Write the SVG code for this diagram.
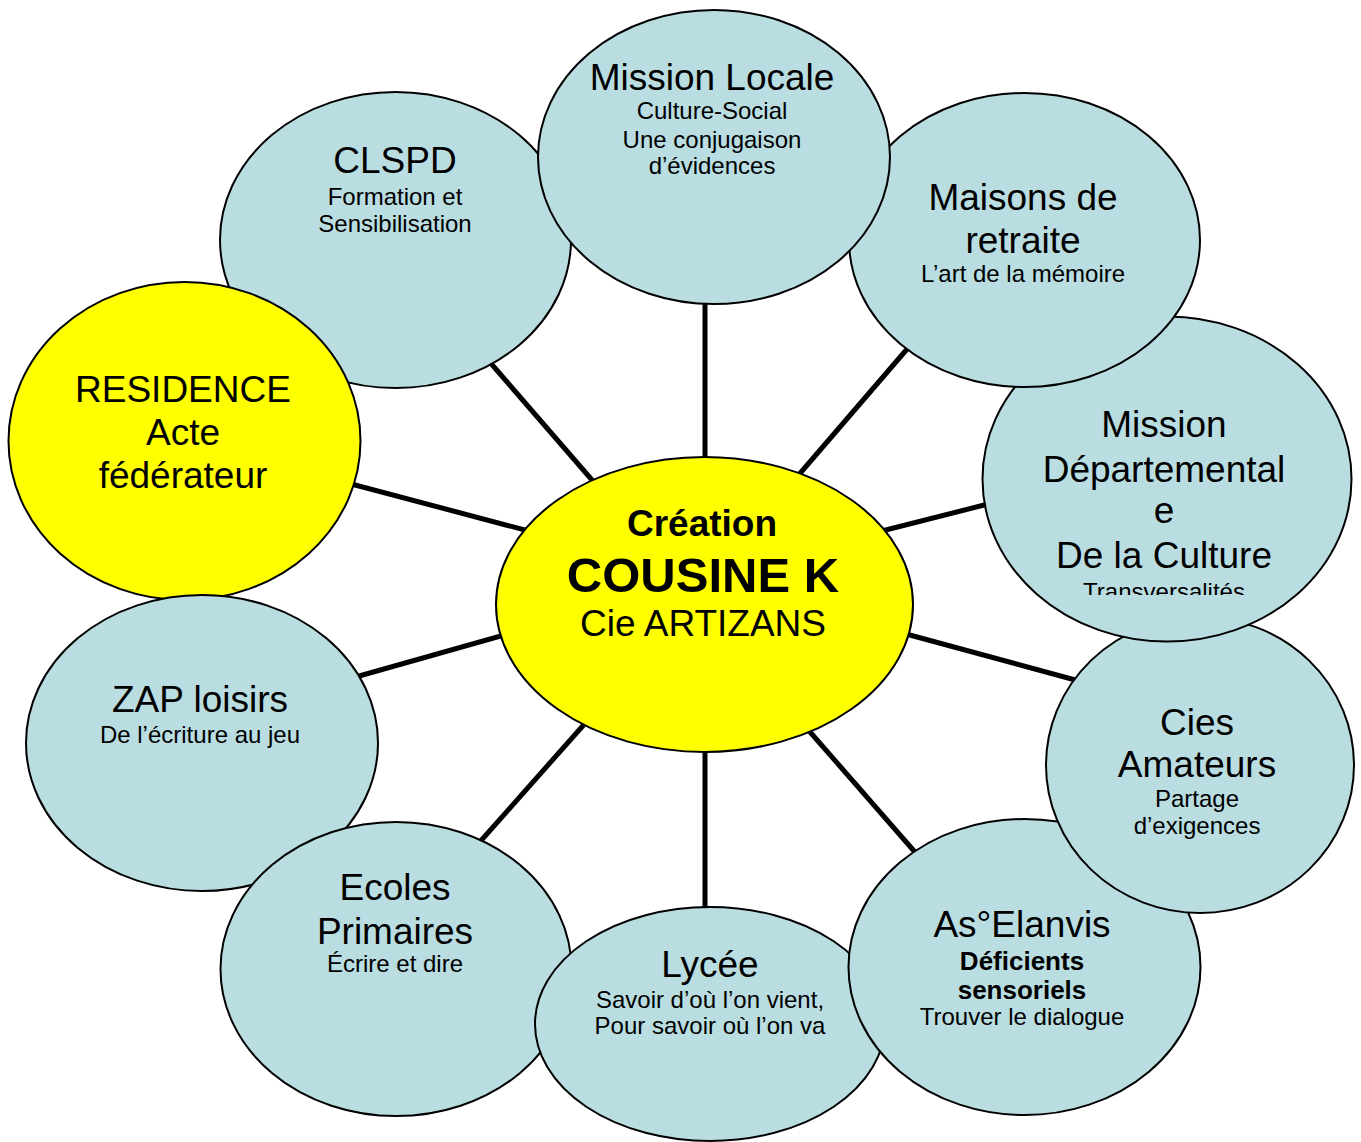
<svg xmlns="http://www.w3.org/2000/svg" width="1361" height="1142" viewBox="0 0 1361 1142">
<style>
.node{fill:#b9dde0;stroke:#000;stroke-width:2}
.hl{fill:#ffff00;stroke:#000;stroke-width:2}
.conn{stroke:#000;stroke-width:5;fill:none}
text{font-family:"Liberation Sans",Arial,sans-serif;text-anchor:middle;fill:#000}
.big{font-size:37px}
.small{font-size:24px}
.bsmall{font-size:26px;font-weight:bold}
</style>
<defs>
<clipPath id="mdclip"><rect x="960" y="300" width="400" height="295"/></clipPath>
</defs>
<rect x="0" y="0" width="1361" height="1142" fill="#fff"/>
<g id="connectors">
<line class="conn" x1="705" y1="300" x2="705" y2="470"/>
<line class="conn" x1="475" y1="345" x2="605" y2="495"/>
<line class="conn" x1="920" y1="334" x2="790" y2="485"/>
<line class="conn" x1="340" y1="481" x2="540" y2="534"/>
<line class="conn" x1="1000" y1="501" x2="870" y2="534"/>
<line class="conn" x1="345" y1="680" x2="515" y2="632"/>
<line class="conn" x1="1090" y1="684" x2="895" y2="631"/>
<line class="conn" x1="470" y1="853" x2="596" y2="711"/>
<line class="conn" x1="705" y1="740" x2="705" y2="920"/>
<line class="conn" x1="928" y1="867" x2="797" y2="717"/>
</g>
<g id="clspd">
<ellipse class="node" cx="395.5" cy="240" rx="175.5" ry="148"/>
<text class="big" x="395" y="173">CLSPD</text>
<text class="small" x="395" y="205">Formation et</text>
<text class="small" x="395" y="232">Sensibilisation</text>
</g>
<g id="residence">
<ellipse class="hl" cx="184.5" cy="441" rx="176" ry="159"/>
<text class="big" x="183" y="402">RESIDENCE</text>
<text class="big" x="183" y="445">Acte</text>
<text class="big" x="183" y="488">fédérateur</text>
</g>
<g id="zap">
<ellipse class="node" cx="202" cy="743" rx="176" ry="148"/>
<text class="big" x="200" y="712">ZAP loisirs</text>
<text class="small" x="200" y="743">De l’écriture au jeu</text>
</g>
<g id="ecoles">
<ellipse class="node" cx="396" cy="969" rx="175.5" ry="147"/>
<text class="big" x="395" y="900">Ecoles</text>
<text class="big" x="395" y="944">Primaires</text>
<text class="small" x="395" y="972">Écrire et dire</text>
</g>
<g id="lycee">
<ellipse class="node" cx="710" cy="1024" rx="175" ry="117"/>
<text class="big" x="710" y="977">Lycée</text>
<text class="small" x="710" y="1008">Savoir d’où l’on vient,</text>
<text class="small" x="710" y="1034">Pour savoir où l’on va</text>
</g>
<g id="elanvis">
<ellipse class="node" cx="1024.5" cy="967" rx="176" ry="148"/>
<text class="big" x="1022" y="937">As°Elanvis</text>
<text class="bsmall" x="1022" y="970">Déficients</text>
<text class="bsmall" x="1022" y="999">sensoriels</text>
<text class="small" x="1022" y="1025">Trouver le dialogue</text>
</g>
<g id="cies">
<ellipse class="node" cx="1200" cy="765" rx="154" ry="148"/>
<text class="big" x="1197" y="735">Cies</text>
<text class="big" x="1197" y="777">Amateurs</text>
<text class="small" x="1197" y="807">Partage</text>
<text class="small" x="1197" y="834">d’exigences</text>
</g>
<g id="mission-departementale">
<ellipse class="node" cx="1167" cy="479" rx="184.5" ry="162.5"/>
<text class="big" x="1164" y="437">Mission</text>
<text class="big" x="1164" y="482">Départemental</text>
<text class="big" x="1164" y="523">e</text>
<text class="big" x="1164" y="568">De la Culture</text>
<text class="small" x="1164" y="600" clip-path="url(#mdclip)">Transversalités</text>
</g>
<g id="maisons">
<ellipse class="node" cx="1024.5" cy="240" rx="175.5" ry="147"/>
<text class="big" x="1023" y="210">Maisons de</text>
<text class="big" x="1023" y="253">retraite</text>
<text class="small" x="1023" y="282">L’art de la mémoire</text>
</g>
<g id="mission-locale">
<ellipse class="node" cx="714" cy="157" rx="176" ry="147"/>
<text class="big" x="712" y="90">Mission Locale</text>
<text class="small" x="712" y="119">Culture-Social</text>
<text class="small" x="712" y="148">Une conjugaison</text>
<text class="small" x="712" y="174">d’évidences</text>
</g>
<g id="center">
<ellipse class="hl" cx="704.5" cy="604.5" rx="208.5" ry="147.5"/>
<text x="702" y="536" style="font-size:37px;font-weight:bold">Création</text>
<text x="703" y="592" style="font-size:49px;font-weight:bold">COUSINE K</text>
<text class="big" x="703" y="636">Cie ARTIZANS</text>
</g>
</svg>
